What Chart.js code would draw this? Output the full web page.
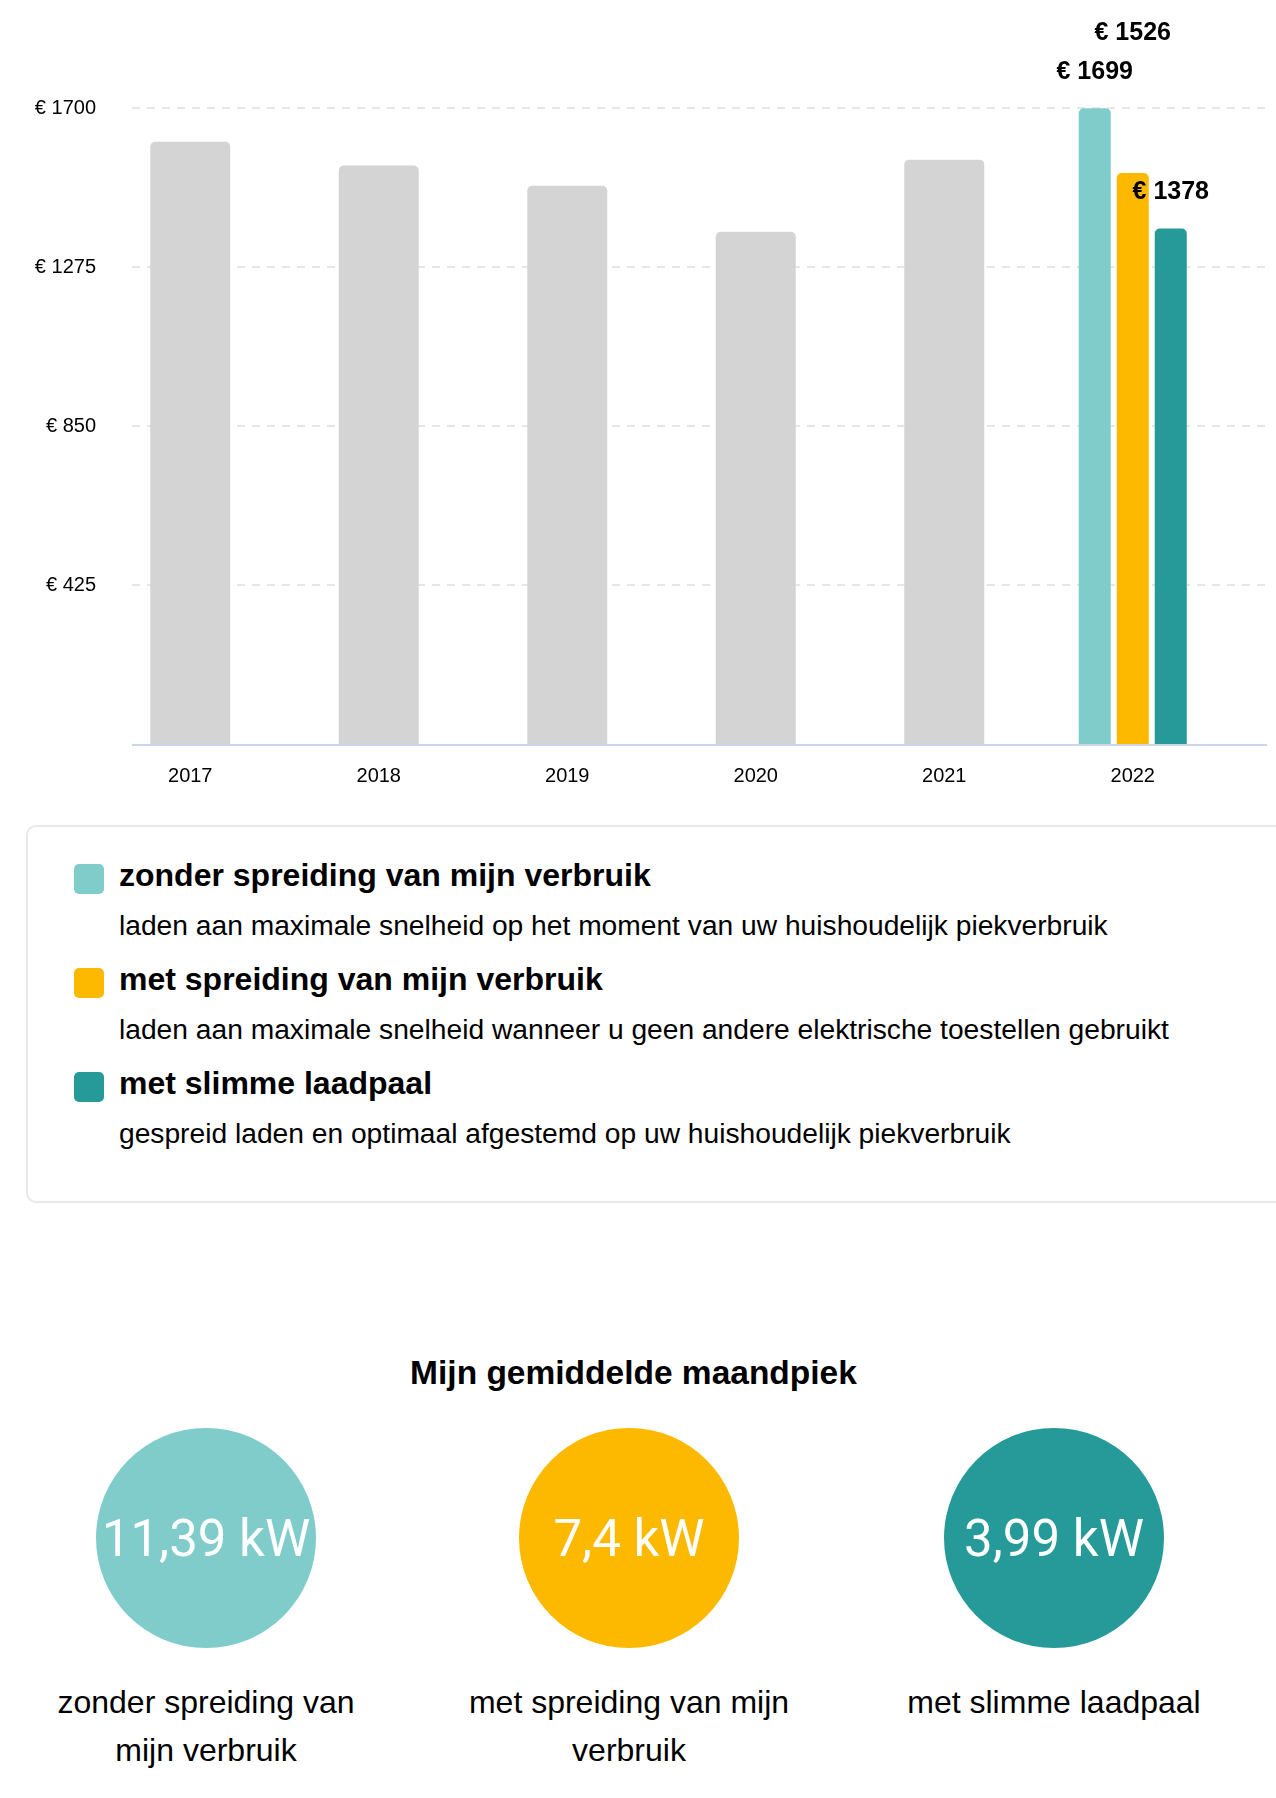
<!DOCTYPE html>
<html lang="nl">
<head>
<meta charset="utf-8">
<title>Mijn laadkosten</title>
<script src="https://cdn.jsdelivr.net/npm/chart.js@4.4.1/dist/chart.umd.min.js"></script>
<style>
  html, body { margin: 0; padding: 0; background: #fff; }
  body {
    width: 1276px; height: 1798px; position: relative; overflow: hidden;
    font-family: "Liberation Sans", Arial, Helvetica, sans-serif; color: #000;
  }
  #chartBox { position: absolute; left: 0; top: 0; width: 1276px; height: 800px; }
  .legend-box {
    position: absolute; left: 26px; top: 825px; width: 1300px; height: 378px;
    box-sizing: border-box; border: 2px solid #e9e9e9; border-radius: 10px;
  }
  .swatch { position: absolute; left: 74px; width: 30px; height: 30px; border-radius: 5px; }
  .item-title { position: absolute; left: 119px; font-size: 32px; font-weight: bold; line-height: 40px; white-space: nowrap; }
  .item-desc { position: absolute; left: 119px; font-size: 28.2px; line-height: 34px; white-space: nowrap; }
  .peak-title {
    position: absolute; left: 0; width: 1267px; top: 1353px; text-align: center;
    font-size: 33.5px; font-weight: bold; line-height: 40px;
  }
  .bubble {
    position: absolute; top: 1428px; width: 220px; height: 220px; border-radius: 50%;
    display: flex; align-items: center; justify-content: center; white-space: nowrap;
    color: #fff; font-family: Roboto, "Liberation Sans", sans-serif; font-weight: 400; font-size: 51px;
  }
  .bubble-label { position: absolute; top: 1678px; width: 340px; text-align: center; font-size: 32px; line-height: 48px; }
</style>
</head>
<body>
<div id="chartBox"><canvas id="costChart" width="1276" height="800"></canvas></div>
<div class="legend-box"></div>
<div id="legendItems"></div>
<div class="peak-title">Mijn gemiddelde maandpiek</div>
<div id="peaks"></div>

<script>
// data
const years = ['2017', '2018', '2019', '2020', '2021', '2022'];
const pastCosts = [1610, 1546, 1492, 1369, 1562];
const scenarioNames = ['zonder spreiding van mijn verbruik', 'met spreiding van mijn verbruik', 'met slimme laadpaal'];
const scenarioDescriptions = [
  'laden aan maximale snelheid op het moment van uw huishoudelijk piekverbruik',
  'laden aan maximale snelheid wanneer u geen andere elektrische toestellen gebruikt',
  'gespreid laden en optimaal afgestemd op uw huishoudelijk piekverbruik'
];
const costs2022 = [1699, 1526, 1378];
const yTicks = [425, 850, 1275, 1700];
const peakValues = ['11,39', '7,4', '3,99'];
const peakUnit = 'kW';

// styles
const scenarioColors = ['#7fcccb', '#fdb900', '#259a98'];
const pastColor = '#d4d4d4';
const labelLift = [36, 140, 36];

Chart.defaults.font.family = '"Liberation Sans", Arial, Helvetica, sans-serif';
Chart.defaults.color = '#000';

const lastIdx = years.length - 1;

const datasets = [{
  label: 'verbruik',
  data: [...pastCosts, null],
  backgroundColor: pastColor,
  categoryPercentage: 1,
  barPercentage: 0.4244,
  borderRadius: 5,
  borderSkipped: 'start',
  skipNull: true
}];
scenarioNames.forEach((name, i) => {
  const data = years.map(() => null);
  data[lastIdx] = costs2022[i];
  datasets.push({
    label: name,
    data: data,
    backgroundColor: scenarioColors[i],
    categoryPercentage: 0.605,
    barPercentage: 0.842,
    borderRadius: 5,
    borderSkipped: 'start',
    skipNull: true
  });
});

// dashed grid lines, axis line and value labels
const decorPlugin = {
  id: 'decor',
  beforeDatasetsDraw(chart) {
    const ctx = chart.ctx;
    const y = chart.scales.y;
    ctx.save();
    ctx.strokeStyle = '#e6e6e6';
    ctx.lineWidth = 2;
    ctx.setLineDash([8, 7]);
    yTicks.forEach(v => {
      const py = Math.round(y.getPixelForValue(v));
      ctx.beginPath();
      ctx.moveTo(132, py);
      ctx.lineTo(1265, py);
      ctx.stroke();
    });
    ctx.restore();
  },
  afterDatasetsDraw(chart) {
    const ctx = chart.ctx;
    const y = chart.scales.y;
    ctx.save();
    ctx.strokeStyle = '#ccd6eb';
    ctx.lineWidth = 2;
    const base = y.getPixelForValue(0) + 1;
    ctx.beginPath();
    ctx.moveTo(132, base);
    ctx.lineTo(1267, base);
    ctx.stroke();

    ctx.fillStyle = '#000';
    ctx.font = 'bold 25px "Liberation Sans", Arial, sans-serif';
    ctx.textAlign = 'center';
    ctx.textBaseline = 'middle';
    costs2022.forEach((v, i) => {
      const bar = chart.getDatasetMeta(i + 1).data[lastIdx];
      ctx.fillText('€ ' + v, bar.x, bar.y - labelLift[i]);
    });
    ctx.restore();
  }
};

new Chart(document.getElementById('costChart'), {
  type: 'bar',
  data: { labels: years, datasets: datasets },
  options: {
    responsive: false,
    animation: false,
    devicePixelRatio: 1,
    layout: { padding: { top: 108, right: 49, bottom: 0, left: 0 } },
    plugins: { legend: { display: false }, tooltip: { enabled: false } },
    scales: {
      x: {
        grid: { display: false, drawTicks: false },
        border: { display: false },
        ticks: { font: { size: 20 }, padding: 20 },
        afterFit: s => { s.height = 56; }
      },
      y: {
        min: 0,
        max: Math.max(...yTicks),
        grid: { display: false, drawTicks: false },
        border: { display: false },
        afterBuildTicks: s => { s.ticks = [0, ...yTicks].map(v => ({ value: v })); },
        ticks: {
          font: { size: 20 },
          padding: 0,
          callback: v => (v === 0 ? '' : '€ ' + v)
        },
        afterFit: s => { s.width = 96; }
      }
    }
  },
  plugins: [decorPlugin]
});

// legend
const legendEl = document.getElementById('legendItems');
scenarioNames.forEach((name, i) => {
  const off = 104 * i;
  const sw = document.createElement('div');
  sw.className = 'swatch';
  sw.style.top = (864 + off) + 'px';
  sw.style.background = scenarioColors[i];
  const t = document.createElement('div');
  t.className = 'item-title';
  t.style.top = (855 + off) + 'px';
  t.textContent = name;
  const d = document.createElement('div');
  d.className = 'item-desc';
  d.style.top = (908 + off) + 'px';
  d.textContent = scenarioDescriptions[i];
  legendEl.append(sw, t, d);
});

// peak bubbles
const peaksEl = document.getElementById('peaks');
const bubbleCenters = [206, 629, 1054];
peakValues.forEach((v, i) => {
  const b = document.createElement('div');
  b.className = 'bubble';
  b.style.left = (bubbleCenters[i] - 110) + 'px';
  b.style.background = scenarioColors[i];
  b.textContent = v + ' ' + peakUnit;
  const l = document.createElement('div');
  l.className = 'bubble-label';
  l.style.left = (bubbleCenters[i] - 170) + 'px';
  l.textContent = scenarioNames[i];
  peaksEl.append(b, l);
});
</script>
</body>
</html>
